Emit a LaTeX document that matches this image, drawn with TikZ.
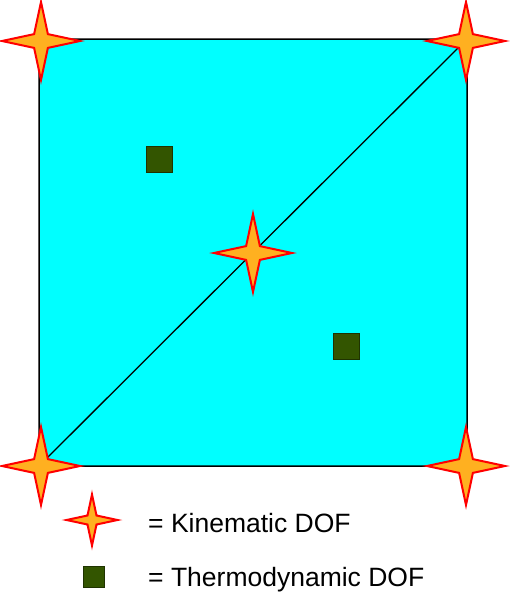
\documentclass[tikz,border=0pt]{standalone}
\usepackage{fontspec}
\setmainfont{Liberation Sans}
\usetikzlibrary{shapes.geometric,positioning}

\definecolor{starfill}{RGB}{255,176,32}
\definecolor{tdofgreen}{RGB}{51,85,0}
\definecolor{platecyan}{RGB}{0,255,255}

\begin{document}
\begin{tikzpicture}[
    x=1pt, y=-1pt,
    plate/.style={
        draw=black,
        line width=1.5pt,
        fill=platecyan,
        rounded corners=22pt,
        minimum width=428pt,
        minimum height=427pt,
        inner sep=0pt
    },
    kdof/.style={
        star,
        star points=4,
        star point ratio=4,
        draw=red,
        line width=2pt,
        fill=starfill,
        minimum size=78pt,
        inner sep=0pt
    },
    tdof/.style={
        rectangle,
        draw=tdofgreen!60!black,
        line width=0.8pt,
        fill=tdofgreen,
        minimum size=26pt,
        inner sep=0pt
    },
    legendtext/.style={
        anchor=base west,
        inner sep=0pt,
        font=\fontsize{26.5}{30}\selectfont
    }
]
\useasboundingbox (0,0) rectangle (509,592);

% element
\node[plate] (elem) at (253,252.5) {};
\draw[line width=1.3pt] (elem.south west) -- (elem.north east);

% thermodynamic dofs
\node[tdof] (t1) at (159,159) {};
\node[tdof] (t2) at (346,346) {};

% kinematic dofs
\node[kdof] (k1) at (41,41) {};
\node[kdof] (k2) at (466,41) {};
\node[kdof] (k3) at (41,466) {};
\node[kdof] (k4) at (466,466) {};
\node[kdof] (k5) at (253,253) {};

% legend
\node[kdof, minimum size=51pt] (lk) at (92,520) {};
\node[tdof, minimum size=21pt] (lt) at (93.5,576.5) {};
\node[legendtext] (lktext) at (148,532) {= Kinematic DOF};
\node[legendtext] (lttext) at (148,586) {= Thermodynamic DOF};

\end{tikzpicture}
\end{document}
